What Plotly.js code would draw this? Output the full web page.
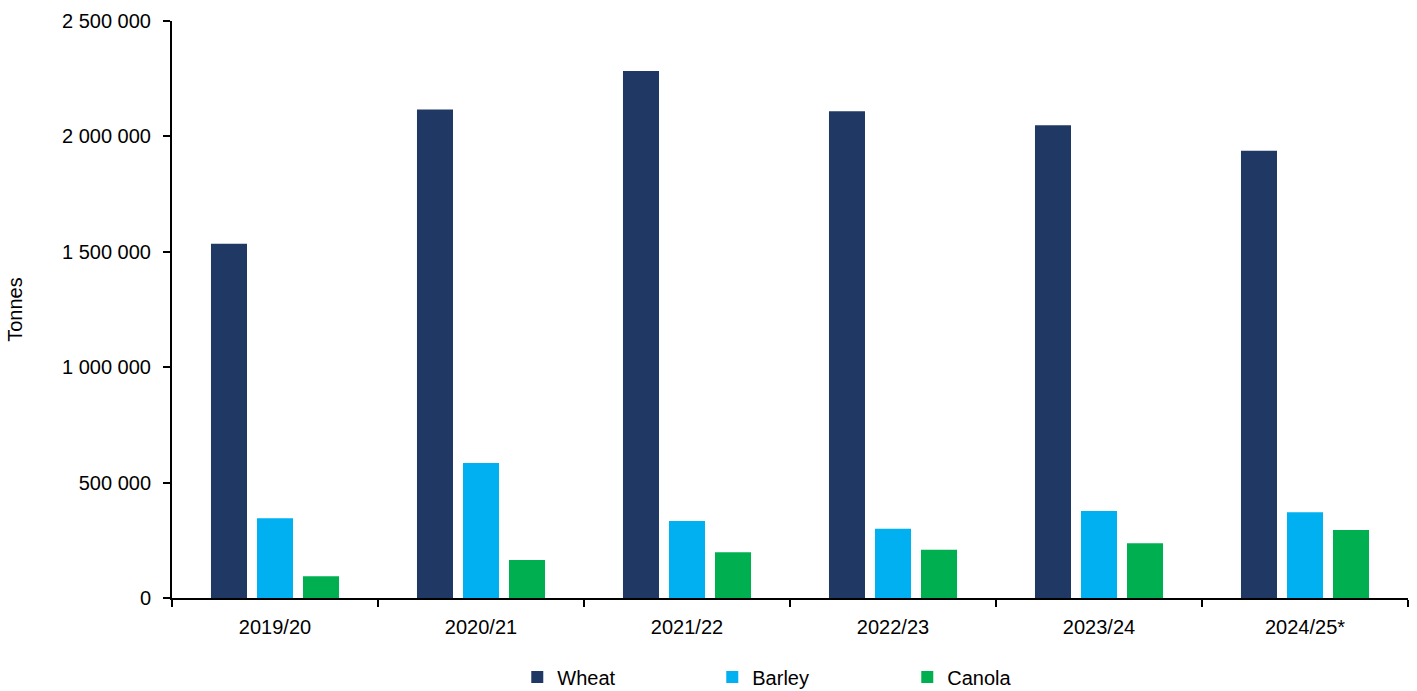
<!DOCTYPE html>
<html>
<head>
<meta charset="utf-8">
<script src="https://cdn.plot.ly/plotly-3.0.1.min.js"></script>
<style>html,body{margin:0;padding:0;background:#fff;}#chart{width:1417px;height:691px;}</style>
</head>
<body>
<div id="chart"></div>
<script>
const seasons = ["2019/20", "2020/21", "2021/22", "2022/23", "2023/24", "2024/25*"];
const wheat = [1535000, 2117000, 2283000, 2109000, 2048000, 1938000];
const barley = [345000, 585000, 334000, 300000, 377000, 371000];
const canola = [94000, 165000, 198000, 209000, 237000, 295000];
const yTickVals = [0, 500000, 1000000, 1500000, 2000000, 2500000];

const font = {family: "Liberation Sans, Arial, sans-serif", size: 20, color: "#000"};

const traces = [
  {type: "bar", name: "Wheat", x: seasons, y: wheat, marker: {color: "#203864"}},
  {type: "bar", name: "Barley", x: seasons, y: barley, marker: {color: "#00B0F0"}},
  {type: "bar", name: "Canola", x: seasons, y: canola, marker: {color: "#00B050"}}
];

const layout = {
  width: 1417, height: 691,
  margin: {l: 172, r: 9, t: 21, b: 93, autoexpand: false},
  paper_bgcolor: "#fff", plot_bgcolor: "#fff",
  font: font,
  separators: ". ",
  barmode: "group",
  bargap: 0.33,
  bargroupgap: 0.217,
  showlegend: true,
  legend: {orientation: "h", x: 0.516, xanchor: "center", y: -0.137, yanchor: "middle",
           font: font, entrywidth: 150, traceorder: "normal"},
  xaxis: {
    type: "category",
    showline: true, linecolor: "#000", linewidth: 2,
    ticks: "outside", tickson: "boundaries", ticklen: 7, tickcolor: "#000", tickwidth: 2,
    showgrid: false, zeroline: false,
    ticklabelstandoff: 10,
    tickfont: font
  },
  yaxis: {
    range: [0, 2500000],
    tickvals: yTickVals,
    tickformat: ",d",
    showline: true, linecolor: "#000", linewidth: 2,
    ticks: "outside", ticklen: 7, tickcolor: "#000", tickwidth: 2,
    showgrid: false, zeroline: false,
    ticklabelstandoff: 8,
    tickfont: font,
    title: {text: "Tonnes", font: font, standoff: 34}
  }
};

Plotly.newPlot("chart", traces, layout, {displayModeBar: false, staticPlot: true});
</script>
</body>
</html>
